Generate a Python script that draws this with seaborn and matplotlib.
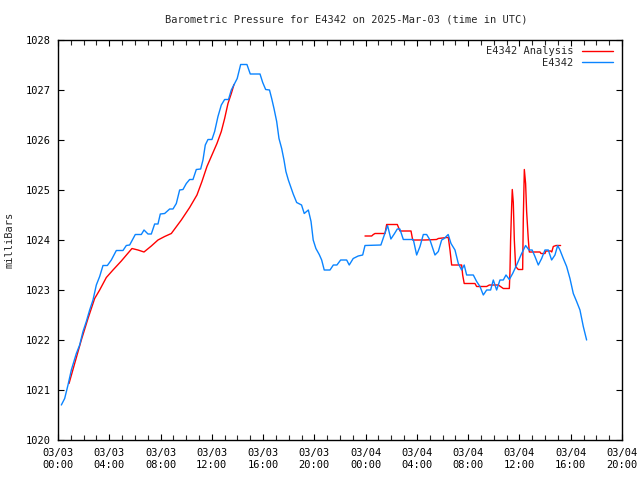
import matplotlib
matplotlib.use("Agg")
import matplotlib.pyplot as plt
import seaborn as sns
import pandas as pd
from matplotlib.lines import Line2D
from matplotlib.ticker import MultipleLocator

# ---------------- data (hours since 2025-03-03 00:00 UTC) ----------------
blue_hours = [0.26, 0.52, 0.78, 1.04, 1.43, 1.69, 1.95, 2.21, 2.47, 2.73, 2.99, 3.25, 3.51, 3.85,
              4.16, 4.55, 5.07, 5.33, 5.59, 6.03, 6.5, 6.71, 7.02, 7.28, 7.54, 7.8, 7.98, 8.32,
              8.71, 8.97, 9.23, 9.49, 9.75, 10.01, 10.27, 10.53, 10.79, 11.13, 11.31, 11.49,
              11.7, 12.01, 12.22, 12.48, 12.74, 13.0, 13.3, 13.52, 13.78, 13.98, 14.25, 14.74,
              15.0, 15.76, 15.97, 16.2, 16.5, 16.67, 16.85, 17.06, 17.24, 17.45, 17.63, 17.78,
              17.97, 18.15, 18.35, 18.62, 19.0, 19.21, 19.53, 19.74, 19.91, 20.12, 20.38, 20.57,
              20.77, 21.22, 21.48, 21.76, 22.05, 22.52, 22.72, 23.03, 23.42, 23.77, 23.95, 25.19,
              25.5, 25.71, 25.97, 26.23, 26.47, 26.67, 26.94, 27.72, 27.98, 28.24, 28.5, 28.76,
              29.02, 29.41, 29.67, 29.93, 30.13, 30.44, 30.66, 30.97, 31.23, 31.49, 31.69, 31.88,
              32.4, 32.66, 32.92, 33.18, 33.44, 33.75, 33.96, 34.22, 34.48, 34.74, 34.95, 35.21,
              35.47, 35.78, 36.17, 36.48, 36.74, 36.99, 37.21, 37.47, 37.73, 37.99, 38.25, 38.51,
              38.77, 38.98, 39.16, 39.42, 39.68, 39.94, 40.2, 40.46, 40.72, 40.98, 41.24]
blue_mb = [1020.70, 1020.83, 1021.10, 1021.40, 1021.73, 1021.90, 1022.17, 1022.37, 1022.60,
           1022.80, 1023.10, 1023.27, 1023.49, 1023.49, 1023.60, 1023.79, 1023.79, 1023.89,
           1023.90, 1024.11, 1024.11, 1024.20, 1024.12, 1024.12, 1024.32, 1024.32, 1024.52,
           1024.53, 1024.62, 1024.62, 1024.73, 1025.00, 1025.01, 1025.13, 1025.21, 1025.21,
           1025.41, 1025.42, 1025.60, 1025.90, 1026.01, 1026.01, 1026.17, 1026.47, 1026.70,
           1026.81, 1026.81, 1027.00, 1027.13, 1027.23, 1027.51, 1027.51, 1027.32, 1027.32,
           1027.15, 1027.01, 1027.00, 1026.83, 1026.63, 1026.37, 1026.03, 1025.83, 1025.60,
           1025.37, 1025.20, 1025.07, 1024.92, 1024.75, 1024.70, 1024.53, 1024.60, 1024.37,
           1024.00, 1023.83, 1023.71, 1023.60, 1023.40, 1023.40, 1023.50, 1023.50, 1023.60,
           1023.60, 1023.50, 1023.63, 1023.68, 1023.70, 1023.89, 1023.90, 1024.13, 1024.29,
           1024.02, 1024.12, 1024.22, 1024.22, 1024.01, 1024.01, 1023.70, 1023.87, 1024.11,
           1024.11, 1024.00, 1023.70, 1023.77, 1024.00, 1024.03, 1024.11, 1023.93, 1023.80,
           1023.53, 1023.40, 1023.50, 1023.30, 1023.30, 1023.17, 1023.07, 1022.90, 1023.00,
           1023.00, 1023.20, 1023.00, 1023.20, 1023.20, 1023.30, 1023.21, 1023.33, 1023.50,
           1023.73, 1023.89, 1023.80, 1023.80, 1023.67, 1023.50, 1023.63, 1023.80, 1023.80,
           1023.60, 1023.70, 1023.89, 1023.80, 1023.63, 1023.47, 1023.23, 1022.93, 1022.77,
           1022.60, 1022.27, 1022.00]

red1_hours = [0.86, 1.3, 1.82, 2.34, 2.86, 3.25, 3.77, 4.29, 4.94, 5.77, 6.24, 6.71, 7.28, 7.8,
              8.32, 8.84, 9.62, 10.27, 10.84, 11.23, 11.62, 12.01, 12.4, 12.74, 13.0, 13.26,
              13.52, 13.73]
red1_mb = [1021.13, 1021.53, 1022.00, 1022.43, 1022.83, 1023.00, 1023.25, 1023.40, 1023.58,
           1023.83, 1023.80, 1023.76, 1023.88, 1024.00, 1024.07, 1024.13, 1024.40, 1024.65,
           1024.90, 1025.17, 1025.47, 1025.70, 1025.93, 1026.17, 1026.43, 1026.73, 1026.93,
           1027.11]

red2_hours = [23.95, 24.47, 24.6, 24.73, 25.51, 25.64, 26.47, 26.68, 27.54, 27.67, 28.63, 29.53,
              29.67, 30.32, 30.45, 30.58, 30.71, 31.49, 31.57, 31.69, 32.53, 32.66, 33.44, 33.65,
              34.35, 34.74, 35.21, 35.26, 35.31, 35.39, 35.44, 35.52, 35.6, 35.7, 35.91, 36.25,
              36.3, 36.38, 36.48, 36.56, 36.69, 36.77, 37.6, 37.68, 37.99, 38.07, 38.44, 38.52,
              38.64, 38.85, 39.21]
red2_mb = [1024.08, 1024.08, 1024.11, 1024.13, 1024.13, 1024.31, 1024.31, 1024.18, 1024.18,
           1024.00, 1024.00, 1024.01, 1024.03, 1024.05, 1024.05, 1023.80, 1023.50, 1023.50,
           1023.30, 1023.13, 1023.13, 1023.07, 1023.07, 1023.10, 1023.10, 1023.03, 1023.03,
           1023.37, 1024.00, 1024.67, 1025.01, 1024.75, 1024.00, 1023.47, 1023.41, 1023.41,
           1024.43, 1025.41, 1025.13, 1024.57, 1024.01, 1023.76, 1023.76, 1023.73, 1023.73,
           1023.78, 1023.78, 1023.76, 1023.87, 1023.89, 1023.89]

x_tick_hours = [0, 4, 8, 12, 16, 20, 24, 28, 32, 36, 40, 44]
x_tick_labels = ["03/03\n00:00", "03/03\n04:00", "03/03\n08:00", "03/03\n12:00",
                 "03/03\n16:00", "03/03\n20:00", "03/04\n00:00", "03/04\n04:00",
                 "03/04\n08:00", "03/04\n12:00", "03/04\n16:00", "03/04\n20:00"]
y_ticks = [1020, 1021, 1022, 1023, 1024, 1025, 1026, 1027, 1028]

title = "Barometric Pressure for E4342 on 2025-Mar-03 (time in UTC)"
ylabel = "milliBars"
label_red = "E4342 Analysis"
label_blue = "E4342"

# ---------------- plotting ----------------
sns.set_theme(style="white")
plt.rcParams["font.family"] = ["DejaVu Sans Mono"]
FS = 7.5

blue_df = pd.DataFrame({"h": blue_hours, "mb": blue_mb})
red_df = pd.concat([
    pd.DataFrame({"h": red1_hours, "mb": red1_mb, "seg": 1}),
    pd.DataFrame({"h": red2_hours, "mb": red2_mb, "seg": 2}),
], ignore_index=True)

RED = "#ff0000"
BLUE = "#0a84ff"

fig = plt.figure(figsize=(6.4, 4.8), dpi=100)
ax = fig.add_axes([58 / 640, 40 / 480, (622 - 58) / 640, 400 / 480])

sns.lineplot(data=red_df, x="h", y="mb", units="seg", estimator=None, sort=False,
             color=RED, linewidth=1.0, ax=ax, legend=False)
sns.lineplot(data=blue_df, x="h", y="mb", estimator=None, sort=False,
             color=BLUE, linewidth=1.0, ax=ax, legend=False)

ax.set_xlim(0, 44)
ax.set_ylim(1020, 1028)
ax.set_xticks(x_tick_hours)
ax.set_xticklabels(x_tick_labels, fontsize=FS)
ax.xaxis.set_minor_locator(MultipleLocator(1))
ax.set_yticks(y_ticks)
ax.set_yticklabels([str(v) for v in y_ticks], fontsize=FS)
ax.tick_params(axis="both", which="major", direction="in", length=4.5, width=0.8,
               top=True, right=True, bottom=True, left=True, colors="black", pad=5)
ax.tick_params(axis="x", which="minor", direction="in", length=3.5, width=0.8,
               top=True, bottom=True)
ax.tick_params(axis="x", which="major", pad=6)
ax.set_xlabel("")
ax.set_ylabel("")
for s in ax.spines.values():
    s.set_visible(True)
    s.set_color("black")
    s.set_linewidth(1.0)
ax.grid(False)

fig.text(346 / 640, 1 - 19 / 480, title, ha="center", va="center", fontsize=FS)
fig.text(10 / 640, 0.5, ylabel, ha="center", va="center", rotation=90, fontsize=FS)

handles = [Line2D([], [], color=RED, lw=1.0), Line2D([], [], color=BLUE, lw=1.0)]
ax.legend(handles, [label_red, label_blue], loc="upper right", frameon=False,
          markerfirst=False, fontsize=FS, handlelength=3.0, handletextpad=0.8,
          labelspacing=0.15, borderaxespad=0.2, bbox_to_anchor=(0.995, 1.0))

fig.savefig("out.png", dpi=100)
